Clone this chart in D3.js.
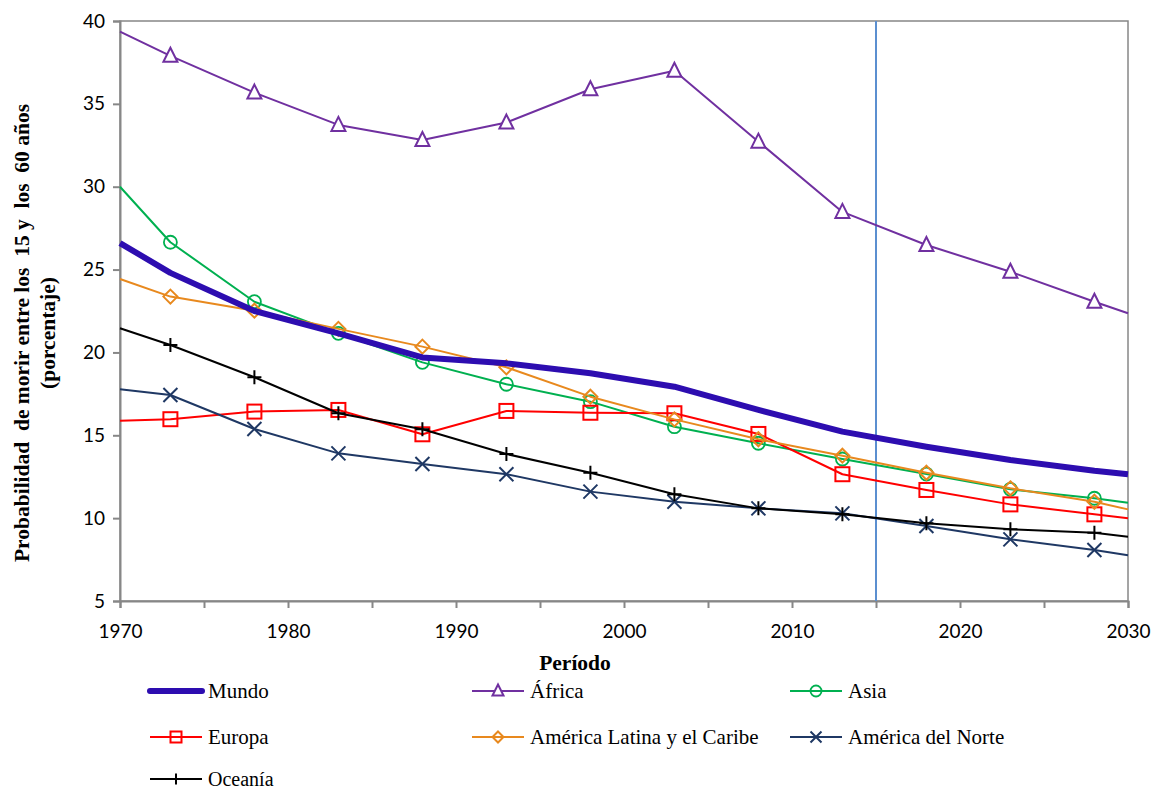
<!DOCTYPE html>
<html><head><meta charset="utf-8">
<script src="https://cdn.jsdelivr.net/npm/d3@7"></script>
<style>body{margin:0;background:#fff}svg{display:block}</style>
</head><body>
<svg id="c" width="1155" height="790"></svg>
<script>
const years = [1970,1973,1978,1983,1988,1993,1998,2003,2008,2013,2018,2023,2028,2030];
const markerYears = [1973,1978,1983,1988,1993,1998,2003,2008,2013,2018,2023,2028];
const mundo   = [26.6,24.8,22.5,21.15,19.7,19.34,18.74,17.93,16.53,15.22,14.31,13.51,12.86,12.65];
const africa  = [39.36,37.9,35.68,33.73,32.82,33.87,35.88,37.0,32.72,28.48,26.48,24.87,23.06,22.36];
const asia    = [30.0,26.65,23.06,21.15,19.4,18.08,17.03,15.52,14.52,13.57,12.66,11.74,11.2,10.93];
const europa  = [15.88,15.97,16.43,16.53,15.06,16.47,16.36,16.33,15.08,12.65,11.7,10.83,10.23,9.99];
const latam   = [24.43,23.37,22.52,21.42,20.35,19.1,17.33,15.96,14.76,13.77,12.74,11.8,10.99,10.53];
const norte   = [17.78,17.43,15.38,13.91,13.27,12.65,11.6,10.99,10.59,10.29,9.53,8.72,8.08,7.76];
const oceania = [21.46,20.45,18.5,16.33,15.36,13.87,12.74,11.44,10.59,10.23,9.69,9.33,9.12,8.88];
const yTicks = [5,10,15,20,25,30,35,40];
const xTicks = [1970,1980,1990,2000,2010,2020,2030];
const refYear = 2015;

const series = [
  {name:"Mundo", values:mundo, color:"#2D0DB0", width:6, marker:null},
  {name:"África", values:africa, color:"#7030A0", width:2, marker:"triangle"},
  {name:"Asia", values:asia, color:"#00B050", width:2, marker:"circle"},
  {name:"Europa", values:europa, color:"#FF0000", width:2, marker:"square"},
  {name:"América Latina y el Caribe", values:latam, color:"#E8891E", width:2, marker:"diamond"},
  {name:"América del Norte", values:norte, color:"#1F3864", width:2, marker:"x"},
  {name:"Oceanía", values:oceania, color:"#000000", width:2, marker:"plus"}
];

const serif = "'Liberation Serif', 'Times New Roman', serif";
const sans = "Lato, 'Open Sans', sans-serif";
const svg = d3.select("#c");
const x = d3.scaleLinear().domain([1970,2030]).range([120,1128]);
const y = d3.scaleLinear().domain([5,40]).range([601,21]);

// frame
svg.append("rect").attr("x",120).attr("y",21).attr("width",1008).attr("height",580)
  .attr("fill","none").attr("stroke","#878787").attr("stroke-width",1.5);

// y axis
const ya = svg.append("g").attr("transform","translate(120,0)")
  .call(d3.axisLeft(y).tickValues(yTicks).tickSize(7).tickPadding(8));
ya.selectAll("text").attr("font-family",sans).attr("font-size",19).attr("fill","#000");
ya.selectAll("line,path").attr("stroke","#878787").attr("stroke-width",2);

// x axis
const xa = svg.append("g").attr("transform","translate(0,601)")
  .call(d3.axisBottom(x).tickValues(d3.range(1970,2031,5)).tickSize(7).tickFormat(d=>xTicks.includes(d)?d:"").tickPadding(17));
xa.selectAll("text").attr("font-family",sans).attr("font-size",19).attr("fill","#000");
xa.selectAll("line,path").attr("stroke","#878787").attr("stroke-width",2);

// 2015 line
svg.append("line").attr("x1",x(refYear)).attr("x2",x(refYear)).attr("y1",21).attr("y2",601)
  .attr("stroke","#5B8FD0").attr("stroke-width",2);

function drawMarker(g, type, cx, cy, color, s){
  const h = s/2;
  if(type==="triangle"){
    g.append("path").attr("d",`M${cx},${cy-h-1}L${cx+h},${cy+h-1}L${cx-h},${cy+h-1}Z`)
      .attr("fill","#fff").attr("stroke",color).attr("stroke-width",2);
  } else if(type==="circle"){
    g.append("circle").attr("cx",cx).attr("cy",cy).attr("r",h).attr("fill","none").attr("stroke",color).attr("stroke-width",1.8);
  } else if(type==="square"){
    g.append("rect").attr("x",cx-h).attr("y",cy-h).attr("width",s).attr("height",s).attr("fill","none").attr("stroke",color).attr("stroke-width",2);
  } else if(type==="diamond"){
    g.append("path").attr("d",`M${cx},${cy-h}L${cx+h},${cy}L${cx},${cy+h}L${cx-h},${cy}Z`).attr("fill","none").attr("stroke",color).attr("stroke-width",2);
  } else if(type==="x"){
    g.append("path").attr("d",`M${cx-h},${cy-h}L${cx+h},${cy+h}M${cx-h},${cy+h}L${cx+h},${cy-h}`).attr("stroke",color).attr("stroke-width",2);
  } else if(type==="plus"){
    g.append("path").attr("d",`M${cx-h},${cy}L${cx+h},${cy}M${cx},${cy-h}L${cx},${cy+h}`).attr("stroke",color).attr("stroke-width",2);
  }
}

const line = d3.line().x((d,i)=>x(years[i])).y(d=>y(d));
const drawOrder = [1,2,3,4,5,6,0];
drawOrder.forEach(k=>{
  const s = series[k];
  const g = svg.append("g");
  g.append("path").datum(s.values).attr("d",line).attr("fill","none")
    .attr("stroke",s.color).attr("stroke-width",s.width).attr("stroke-linejoin","round");
  if(s.marker){
    s.values.forEach((v,i)=>{
      if(markerYears.includes(years[i])) drawMarker(g, s.marker, x(years[i]), y(v), s.color, s.marker==="circle"?13:14);
    });
  }
});

// titles
svg.append("text").attr("x",575).attr("y",670).attr("text-anchor","middle")
  .attr("font-family",serif).attr("font-weight","bold").attr("font-size",21.5).text("Período");
const yt = svg.append("text").attr("transform","translate(0,333) rotate(-90)").attr("text-anchor","middle")
  .attr("font-family",serif).attr("font-weight","bold").attr("font-size",21.5);
yt.append("tspan").attr("x",0).attr("y",29).style("white-space","pre").text("Probabilidad  de morir entre los  15 y  los  60 años");
yt.append("tspan").attr("x",0).attr("y",55).text("(porcentaje)");

// legend
const legPos = [[150,691],[472,691],[790,691],[150,737],[472,737],[790,737],[150,779]];
series.forEach((s,i)=>{
  const [lx,ly] = legPos[i];
  const g = svg.append("g");
  g.append("line").attr("x1",lx).attr("x2",lx+52).attr("y1",ly).attr("y2",ly)
    .attr("stroke",s.color).attr("stroke-width",s.width).attr("stroke-linecap",s.width>3?"round":"butt");
  if(s.marker) drawMarker(g, s.marker, lx+26, ly, s.color, 11);
  g.append("text").attr("x",lx+58).attr("y",ly+7).attr("font-family",serif)
    .attr("font-size",i===6?20:21).text(s.name);
});
</script>
</body></html>
